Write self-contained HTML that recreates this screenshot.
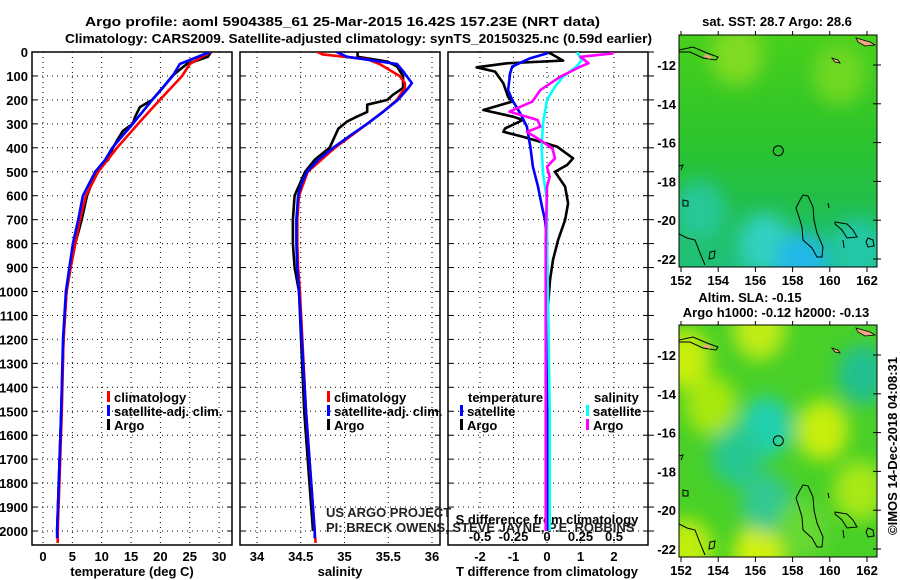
<!DOCTYPE html>
<html><head><meta charset="utf-8"><style>
html,body{margin:0;padding:0;background:#fff;}
svg{display:block;font-family:"Liberation Sans",sans-serif;}
.b{font-weight:bold;font-size:13px;}
</style></head><body>
<svg id="s" width="900" height="580" viewBox="0 0 900 580" xmlns="http://www.w3.org/2000/svg">
<defs>
<clipPath id="c1"><rect x="32" y="52" width="200" height="493"/></clipPath>
<clipPath id="c2"><rect x="240" y="52" width="200" height="493"/></clipPath>
<clipPath id="c3"><rect x="448" y="52" width="200" height="493"/></clipPath>
<clipPath id="cm1"><rect x="679" y="35" width="198" height="232"/></clipPath>
<clipPath id="cm2"><rect x="679" y="325" width="198" height="232"/></clipPath>
<filter id="bl" x="-50%" y="-50%" width="200%" height="200%"><feGaussianBlur stdDeviation="9"/></filter>
<linearGradient id="g1" x1="0" y1="0" x2="0" y2="1">
<stop offset="0" stop-color="#48d01c"/><stop offset="0.45" stop-color="#2cc42c"/><stop offset="0.7" stop-color="#22bf48"/><stop offset="1" stop-color="#20c07a"/></linearGradient>
</defs>
<text x="85" y="26" textLength="515" lengthAdjust="spacingAndGlyphs" class="b" font-size="14">Argo profile: aoml 5904385_61 25-Mar-2015 16.42S 157.23E (NRT data)</text>
<text x="65" y="43" textLength="587" lengthAdjust="spacingAndGlyphs" class="b" font-size="14">Climatology: CARS2009. Satellite-adjusted climatology: synTS_20150325.nc (0.59d earlier)</text>
<g id="plots"></g>
<g id="maps"></g>
</svg>
<script>
// ---------- data ----------
const depthTicks=[0,100,200,300,400,500,600,700,800,900,1000,1100,1200,1300,1400,1500,1600,1700,1800,1900,2000];
const tTicks=[0,5,10,15,20,25,30];
const sTicks=[34,34.5,35,35.5,36];
const tdTicks=[-2,-1,0,1,2];
const sdTicks=[-0.5,-0.25,0,0.25,0.5];
const sdTickLabels=["-0.5","-0.25","0","0.25","0.5"];
// temperature profiles
const tArgoDepth=[0,20,50,100,150,200,230,270,300,330,370,400,450,480,500,550,600,700,800,900,1000,1200,1500,1800,2000];
const tArgo=[28.6,28.1,24.5,22.0,20.4,18.6,16.5,15.7,15.3,13.6,12.6,11.9,11.1,9.7,8.9,8.3,7.5,6.6,5.5,4.7,4.0,3.5,3.1,2.7,2.4];
const tSatDepth=[0,50,100,200,300,400,450,500,600,700,800,900,1000,1200,1500,1800,2000,2030];
const tSat=[28.4,23.3,22.1,18.6,15.3,11.8,10.6,8.9,6.8,6.0,5.1,4.5,3.9,3.4,3.1,2.7,2.4,2.4];
const tClimDepth=[0,50,100,200,300,400,500,600,700,800,900,1000,1200,1500,1800,2000,2050];
const tClim=[28.5,25.0,23.7,19.9,16.2,12.6,9.4,7.3,6.3,5.5,4.7,4.0,3.5,3.2,2.8,2.5,2.5];
// salinity profiles
const sArgoDepth=[0,20,40,60,100,150,180,200,220,250,270,290,320,400,450,500,600,700,800,900,1000,1500,2000];
const sArgo=[35.15,35.15,35.49,35.60,35.67,35.67,35.55,35.49,35.26,35.26,35.14,35.03,34.93,34.83,34.66,34.55,34.43,34.41,34.41,34.43,34.48,34.54,34.64];
const sSatDepth=[0,20,50,80,100,130,150,200,250,300,350,400,450,500,550,600,700,800,900,1000,1500,2000,2030];
const sSat=[34.91,35.03,35.60,35.67,35.71,35.77,35.73,35.61,35.44,35.26,35.06,34.87,34.70,34.57,34.51,34.47,34.45,34.45,34.46,34.48,34.56,34.66,34.66];
const sClimDepth=[0,10,30,50,80,100,130,150,200,250,300,400,500,600,700,800,900,1000,1500,2000,2050];
const sClim=[34.69,34.75,35.26,35.40,35.54,35.63,35.69,35.69,35.60,35.44,35.26,34.89,34.58,34.48,34.46,34.46,34.47,34.49,34.56,34.66,34.67];
// differences
const dArgoTDepth=[0,6,36,47,64,82,131,187,207,242,270,284,319,333,354,395,444,472,500,562,632,701,785,868,952,1063,1500,2000];
const dArgoT=[0,0.1,0.48,-1.2,-2.1,-1.55,-1.3,-1.16,-1.04,-1.9,-1.01,-0.72,-1.25,-1.3,-0.72,0.3,0.78,0.6,0.24,0.54,0.63,0.54,0.33,0.18,0.09,0.03,0.02,0.01];
const dSatTDepth=[0,6,26,61,89,159,200,256,312,395,479,562,646,701,785,1500,2000];
const dSatT=[-0.05,0,-0.5,-1.04,-1.1,-1.16,-1.04,-0.8,-0.6,-0.5,-0.42,-0.27,-0.15,-0.06,0,0,0];
const dSatSDepth=[0,6,34,61,103,145,200,298,395,507,618,785,1100,1500,2000];
const dSatS=[0.23,0.23,0.26,0.22,0.12,0.06,0,-0.03,-0.04,-0.03,0,0,0.01,0.02,0.02];
const dArgoSDepth=[0,6,20,47,61,103,159,207,249,284,312,333,368,403,444,479,521,562,785,1100,1500,2000];
const dArgoS=[0.49,0.49,0.25,0.31,0.25,0.1,-0.05,-0.11,-0.28,-0.07,-0.05,-0.15,-0.05,0.04,0.06,0,0.02,0,-0.01,-0.01,-0.01,-0.01];

// ---------- axes ----------
const yD=d=>52+0.2395*d;
const xT=t=>43+5.87*t;
const xS=s=>257+87.5*(s-34);
const xTD=t=>547+33.5*t;
const xSD=s=>547+134*s;
const NS="http://www.w3.org/2000/svg";
const P=document.getElementById('plots');
function mk(tag,at,parent){const e=document.createElementNS(NS,tag);for(const k in at)e.setAttribute(k,at[k]);(parent||P).appendChild(e);return e;}
function txt(x,y,s,anchor,parent,cls){const e=mk('text',{x:x,y:y,'text-anchor':anchor||'middle','class':cls||'b'},parent);e.textContent=s;return e;}

const panels=[{x:32,clip:'c1',xs:xT,ticks:tTicks,name:'temperature-panel'},{x:240,clip:'c2',xs:xS,ticks:sTicks,name:'salinity-panel'},{x:448,clip:'c3',xs:xTD,ticks:tdTicks,name:'difference-panel'}];
panels.forEach(p=>{
  const g=mk('g',{});
  
  
  depthTicks.forEach(d=>{const l=mk('line',{x1:p.x,x2:p.x+200,y1:yD(d),y2:yD(d),stroke:'#000','stroke-width':1,'stroke-dasharray':'1 4'},g);
    
    
    mk('line',{x1:p.x,x2:p.x+5,y1:yD(d),y2:yD(d),stroke:'#000'},g);mk('line',{x1:p.x+195,x2:p.x+200,y1:yD(d),y2:yD(d),stroke:'#000'},g);});
  p.ticks.forEach(t=>{const l=mk('line',{x1:p.xs(t),x2:p.xs(t),y1:52,y2:545,stroke:'#000','stroke-width':1,'stroke-dasharray':'1 4'},g);
    
    });
  const r=mk('rect',{x:p.x,y:52,width:200,height:493,fill:'none',stroke:'#000','stroke-width':1.5},g);
  
  
});
depthTicks.forEach(d=>{const t=txt(28,yD(d)+5,String(d),'end');
  
  
  mk('line',{x1:648,x2:654,y1:yD(d),y2:yD(d),stroke:'#000'});});
tTicks.forEach(t=>{const e=txt(xT(t),561,String(t));});
sTicks.forEach(t=>{const e=txt(xS(t),561,String(t));});
tdTicks.forEach(t=>{const e=txt(xTD(t),561,String(t));});
sdTicks.forEach((t,i)=>{const e=txt(xSD(t),541,sdTickLabels[i]);});
let e;
e=txt(132,576,'temperature (deg C)');
e=txt(340,576,'salinity');
e=txt(547,576,'T difference from climatology');
e=txt(547,524,'S difference from climatology');
e=txt(326,517,'US ARGO PROJECT','start',P,'');e.setAttribute('font-size','13');e.setAttribute('fill','#222');
e=txt(326,532,'PI: BRECK OWENS, STEVE JAYNE, P.E. ROBBINS','start',P,'');e.setAttribute('font-size','13');e.setAttribute('fill','#222');

function line(xs,ds,vals,fx,color,clip,name){
  const pts=vals.map((v,i)=>fx(v).toFixed(1)+','+yD(ds[i]).toFixed(1)).join(' ');
  const l=mk('polyline',{points:pts,fill:'none',stroke:color,'stroke-width':2.6,'stroke-linejoin':'round','clip-path':'url(#'+clip+')'});
  
  
}
line(0,tArgoDepth,tArgo,xT,'#000','c1','temperature-argo-line');
line(0,tClimDepth,tClim,xT,'#f00','c1','temperature-climatology-line');
line(0,tSatDepth,tSat,xT,'#00f','c1','temperature-satellite-line');
line(0,sArgoDepth,sArgo,xS,'#000','c2','salinity-argo-line');
line(0,sClimDepth,sClim,xS,'#f00','c2','salinity-climatology-line');
line(0,sSatDepth,sSat,xS,'#00f','c2','salinity-satellite-line');
line(0,dArgoTDepth,dArgoT,xTD,'#000','c3','t-diff-argo-line');
line(0,dSatTDepth,dSatT,xTD,'#00f','c3','t-diff-satellite-line');
line(0,dSatSDepth,dSatS,xSD,'#0ff','c3','s-diff-satellite-line');
line(0,dArgoSDepth,dArgoS,xSD,'#f0f','c3','s-diff-argo-line');

function legend(x,y,color,label,name){
  const g=mk('g',{});
  
  
  mk('rect',{x:x,y:y-11,width:3,height:11,fill:color},g);
  txt(x+7,y,label,'start',g);
}
const rows=[402,416,430];
legend(107,rows[0],'#f00','climatology','legend-climatology');
legend(107,rows[1],'#00f','satellite-adj. clim.','legend-satellite-adj');
legend(107,rows[2],'#000','Argo','legend-argo');
legend(327,rows[0],'#f00','climatology','legend-climatology-s');
legend(327,rows[1],'#00f','satellite-adj. clim.','legend-satellite-adj-s');
legend(327,rows[2],'#000','Argo','legend-argo-s');
e=txt(468,rows[0],'temperature','start');
legend(460,rows[1],'#00f','satellite','legend-t-satellite');
legend(460,rows[2],'#000','Argo','legend-t-argo');
e=txt(594,rows[0],'salinity','start');
legend(586,rows[1],'#0ff','satellite','legend-s-satellite');
legend(586,rows[2],'#f0f','Argo','legend-s-argo');

// ---------- maps ----------
const lonTicks=[152,154,156,158,160,162];
const latTicks=[-12,-14,-16,-18,-20,-22];
const floatLon=157.23, floatLat=-16.42;
const sstBlobLon=[156.5,158.5,161.5,153,155,160.5];
const sstBlobLat=[-21.2,-22.2,-21.5,-19.5,-11.5,-12.5];
const sstBlobCol=['#30d0c0','#20b8e8','#24c8a8','#28c898','#80dc20','#70d820'];
const slaBlobLon=[152.2,153.6,156.2,159.6,161.6,156.2,152.3,156.6,155.0,156.6,161.8,158.5];
const slaBlobLat=[-12.2,-14.6,-10.7,-15.9,-19.0,-22.2,-22.0,-15.7,-17.2,-19.6,-13.0,-21.0];
const slaBlobCol=['#c8ee10','#a8e810','#c0ec18','#c8ee10','#a8e818','#d0f010','#c0ee10','#20d0b0','#28c890','#30c890','#22c090','#66d830'];
const M=document.getElementById('maps');
function map(top,bg,blLon,blLat,blCol,clip,name,titles){
  const g=mk('g',{},M);
  
  
  const xL=l=>681+18.6*(l-152), yL=l=>top+30+19.4*(-12-l);
  const cg=mk('g',{'clip-path':'url(#'+clip+')'},g);
  mk('rect',{x:679,y:top,width:198,height:232,fill:bg},cg);
  const bg2=mk('g',{filter:'url(#bl)'},cg);
  blLon.forEach((l,i)=>{const c=mk('ellipse',{cx:xL(l),cy:yL(blLat[i]),rx:26,ry:30,fill:blCol[i]},bg2);
    
    });
  const cs=mk('g',{transform:'translate(0,'+(top-35)+')',fill:'none',stroke:'#000','stroke-width':1},cg);
  ['M679,50 L693,47 L707,53 L718,57 L716,60 L703,58 L690,52 L679,52','M679,234 L687,238 L695,240 L700,253 L705,265','M710,252 L715,251 L714,258 L709,259 Z','M803,195 L808,196 L813,207 L814,220 L817,233 L823,247 L822,257 L817,257 L812,248 L803,240 L802,227 L799,217 L796,208 L800,200 Z','M835,222 L847,224 L853,230 L857,237 L847,238 L842,230 L835,224 Z','M868,238 L873,240 L874,246 L868,247 L866,242 Z','M683,200 L688,201 L688,206 L683,206 Z','M843,240 L844,248','M679,166 L683,165 L681,170','M828,203 L829,208'].forEach(d=>mk('path',{d:d},cs));
  mk('path',{d:'M856,38 L870,42 L875,45 L865,46 L858,42 Z',fill:'#f0a880',stroke:'#000','stroke-width':0.8},cs);
  mk('path',{d:'M705,54 L712,57 L710,59 L704,57 Z',fill:'#f0a880',stroke:'none'},cs);
  mk('path',{d:'M832,58 L838,60 L840,63 L835,62 Z',fill:'#f0a880',stroke:'#000','stroke-width':0.8},cs);
  const c=mk('circle',{cx:xL(floatLon),cy:yL(floatLat),r:5,fill:'none',stroke:'#000','stroke-width':1},g);
  
  
  mk('rect',{x:679,y:top,width:198,height:232,fill:'none',stroke:'#000','stroke-width':1},g);
  lonTicks.forEach(l=>{mk('line',{x1:xL(l),x2:xL(l),y1:top-4,y2:top,stroke:'#000'},g);mk('line',{x1:xL(l),x2:xL(l),y1:top+232,y2:top+237,stroke:'#000'},g);
    const t=txt(xL(l),top+250,String(l),'middle',g);t.setAttribute('font-size','14');
    
    });
  latTicks.forEach(l=>{mk('line',{x1:873,x2:881,y1:yL(l),y2:yL(l),stroke:'#000'},g);
    const t=txt(676,yL(l)+5,String(l),'end',g);t.setAttribute('font-size','14');
    
    });
  titles.forEach((s,i)=>{const t=txt(s[1],s[2],s[0],'middle',g);});
}
map(35,'url(#g1)',sstBlobLon,sstBlobLat,sstBlobCol,'cm1','sst-map',[['sat. SST: 28.7 Argo: 28.6',777,26]]);
map(325,'#48d028',slaBlobLon,slaBlobLat,slaBlobCol,'cm2','sla-map',[['Altim. SLA: -0.15',750,302],['Argo h1000: -0.12 h2000: -0.13',776,317]]);
e=txt(0,0,'©IMOS 14-Dec-2018 04:08:31','middle',M,'');
e.setAttribute('font-size','13');
e.setAttribute('transform','translate(897,446) rotate(-90)');


</script>
</body></html>
